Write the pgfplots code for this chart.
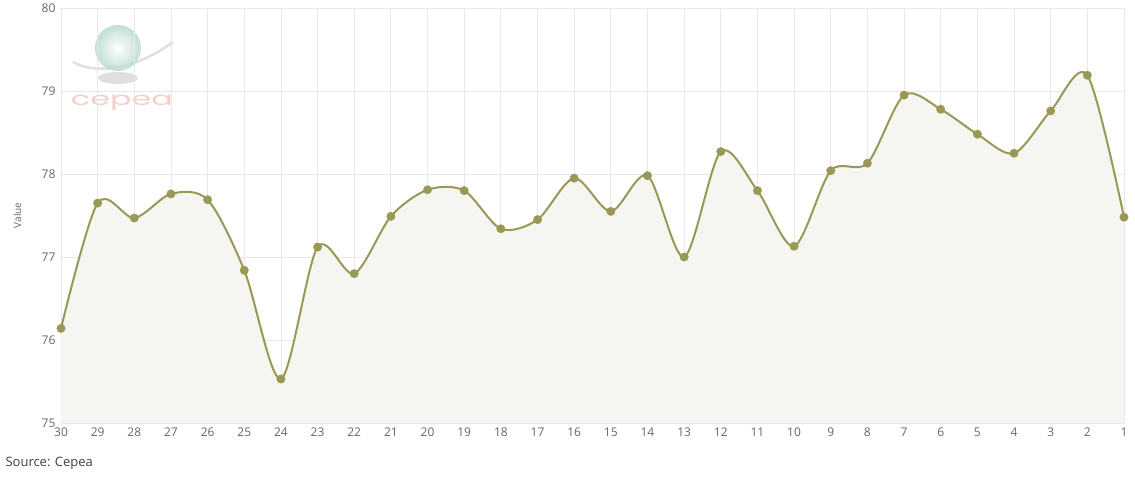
\documentclass[border=0pt]{standalone}
\usepackage{fontspec}
\setmainfont{Open Sans}
\newfontfamily\logofont{Poppins}
\usepackage{pgfplots}
\pgfplotsset{compat=1.18}
\definecolor{lineol}{HTML}{999955}
\definecolor{fillgr}{HTML}{F5F5F1}
\definecolor{gridc}{HTML}{E8E8E8}
\definecolor{txt}{HTML}{666666}
\definecolor{mint}{HTML}{B5D9CB}
\definecolor{logopink}{HTML}{F2CFC8}
\begin{document}
\begin{tikzpicture}[x=1pt,y=1pt]
\path[use as bounding box] (-61,-56) rectangle (1074,423);
% logo
\begin{scope}
\draw[gray!25, line width=2.5pt] (12,361) .. controls (30,350) and (70,350) .. (112,381);
\shade[inner color=white, outer color=mint, opacity=0.85] (57,375) circle (23);
\fill[gray!25] (57,345) ellipse (20 and 6);
\node[text=logopink, font=\logofont\fontsize{22}{22}\selectfont, anchor=center, xscale=1.45, yscale=0.85] at (61,320) {cepea};
\end{scope}
\begin{axis}[
  at={(0,0)}, anchor=south west,
  scale only axis, width=1063pt, height=415pt,
  xmin=0, xmax=29, ymin=75, ymax=80,
  xtick={0,...,29},
  xticklabels={30,29,28,27,26,25,24,23,22,21,20,19,18,17,16,15,14,13,12,11,10,9,8,7,6,5,4,3,2,1},
  ytick={75,76,77,78,79,80},
  grid=major,
  major grid style={gridc, line width=0.8pt},
  axis line style={gridc},
  axis x line*=bottom, axis y line*=left,
  tick style={draw=none},
  ticklabel style={font=\fontsize{12}{14}\selectfont, text=txt},
  /pgf/number format/assume math mode=true,
  xticklabel style={yshift=-1pt},
  yticklabel style={xshift=-2pt},
  ylabel={Value},
  ylabel style={font=\fontsize{10}{12}\selectfont, text=txt, at={(axis description cs:-0.041,0.5)}, anchor=center, rotate=0},
  clip=false,
]
\addplot[fill=fillgr, draw=none, smooth, tension=0.5] coordinates {
(0,76.14) (1,77.65) (2,77.47) (3,77.76) (4,77.69) (5,76.84) (6,75.53) (7,77.12) (8,76.80) (9,77.49)
(10,77.81) (11,77.80) (12,77.34) (13,77.45) (14,77.95) (15,77.55) (16,77.98) (17,77.00) (18,78.27) (19,77.80)
(20,77.13) (21,78.04) (22,78.13) (23,78.95) (24,78.78) (25,78.48) (26,78.25) (27,78.76) (28,79.19) (29,77.48)
} \closedcycle;
\addplot[lineol, line width=2pt, smooth, tension=0.5, mark=*, mark size=4.2pt, mark options={solid, fill=lineol, draw=lineol, line width=0.4pt}] coordinates {
(0,76.14) (1,77.65) (2,77.47) (3,77.76) (4,77.69) (5,76.84) (6,75.53) (7,77.12) (8,76.80) (9,77.49)
(10,77.81) (11,77.80) (12,77.34) (13,77.45) (14,77.95) (15,77.55) (16,77.98) (17,77.00) (18,78.27) (19,77.80)
(20,77.13) (21,78.04) (22,78.13) (23,78.95) (24,78.78) (25,78.48) (26,78.25) (27,78.76) (28,79.19) (29,77.48)
};
\end{axis}
\node[anchor=west, font=\fontsize{13}{15}\selectfont, text=black!75] at (-59,-40) {Source: Cepea};
\end{tikzpicture}
\end{document}
